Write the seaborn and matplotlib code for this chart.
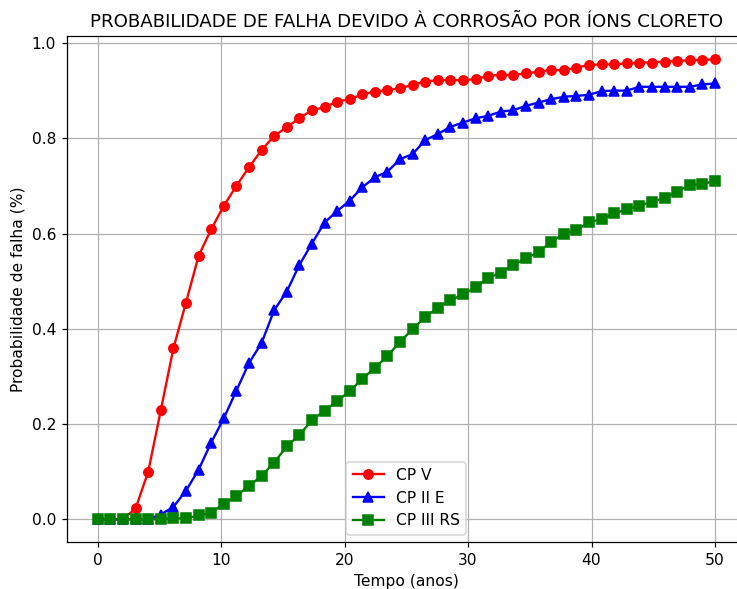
import numpy as np
import pandas as pd
import seaborn as sns
import matplotlib
matplotlib.use("Agg")
import matplotlib.pyplot as plt

# tempo em anos (50 pontos entre 0 e 50)
tempo = np.linspace(0, 50, 50)

cp_v = [0, 0, 0, 0.023, 0.100, 0.229, 0.359, 0.455, 0.553, 0.609,
        0.658, 0.700, 0.739, 0.775, 0.805, 0.823, 0.842, 0.859, 0.865, 0.877,
        0.882, 0.892, 0.898, 0.901, 0.905, 0.912, 0.919, 0.922, 0.922, 0.922,
        0.924, 0.931, 0.933, 0.933, 0.936, 0.940, 0.943, 0.943, 0.948, 0.954,
        0.955, 0.955, 0.957, 0.959, 0.959, 0.961, 0.962, 0.964, 0.964, 0.966]

cp_ii_e = [0, 0, 0, 0, 0, 0.010, 0.026, 0.060, 0.104, 0.161,
           0.212, 0.270, 0.328, 0.370, 0.439, 0.478, 0.534, 0.579, 0.623, 0.647,
           0.669, 0.697, 0.718, 0.730, 0.756, 0.767, 0.796, 0.809, 0.824, 0.833,
           0.842, 0.847, 0.856, 0.859, 0.868, 0.875, 0.882, 0.887, 0.889, 0.891,
           0.899, 0.900, 0.900, 0.908, 0.908, 0.908, 0.908, 0.908, 0.913, 0.915]

cp_iii_rs = [0, 0, 0, 0, 0, 0, 0.002, 0.002, 0.008, 0.014,
             0.032, 0.049, 0.070, 0.091, 0.119, 0.153, 0.177, 0.208, 0.228, 0.248,
             0.269, 0.295, 0.318, 0.343, 0.373, 0.399, 0.425, 0.444, 0.460, 0.472,
             0.487, 0.507, 0.518, 0.534, 0.548, 0.561, 0.582, 0.600, 0.607, 0.624,
             0.630, 0.642, 0.651, 0.658, 0.667, 0.674, 0.688, 0.702, 0.704, 0.710]

series = [("CP V", cp_v, "red", "o"),
          ("CP II E", cp_ii_e, "blue", "^"),
          ("CP III RS", cp_iii_rs, "green", "s")]

# dpi 112 -> fontes e marcadores um pouco maiores, como na figura original
fig = plt.figure(figsize=(737 / 112, 589 / 112), dpi=112)
ax = fig.add_axes([0.0909, 0.0793, 0.921, 0.8593])

for nome, valores, cor, marcador in series:
    df = pd.DataFrame({"tempo": tempo, "prob": valores})
    sns.lineplot(data=df, x="tempo", y="prob", ax=ax, color=cor, marker=marcador,
                 markersize=6, markeredgecolor=cor, markeredgewidth=1,
                 linewidth=1.5, label=nome)

ax.set_xticks([0, 10, 20, 30, 40, 50])
ax.set_yticks([0.0, 0.2, 0.4, 0.6, 0.8, 1.0])
ax.set_xlabel("Tempo (anos)")
ax.set_ylabel("Probabilidade de falha (%)")
ax.set_title("PROBABILIDADE DE FALHA DEVIDO À CORROSÃO POR ÍONS CLORETO", fontsize=11.75)
ax.spines["right"].set_visible(False)  # a borda direita fica fora do recorte
ax.grid(True)
ax.legend(loc="lower center")

fig.savefig("out.png", dpi=112)
